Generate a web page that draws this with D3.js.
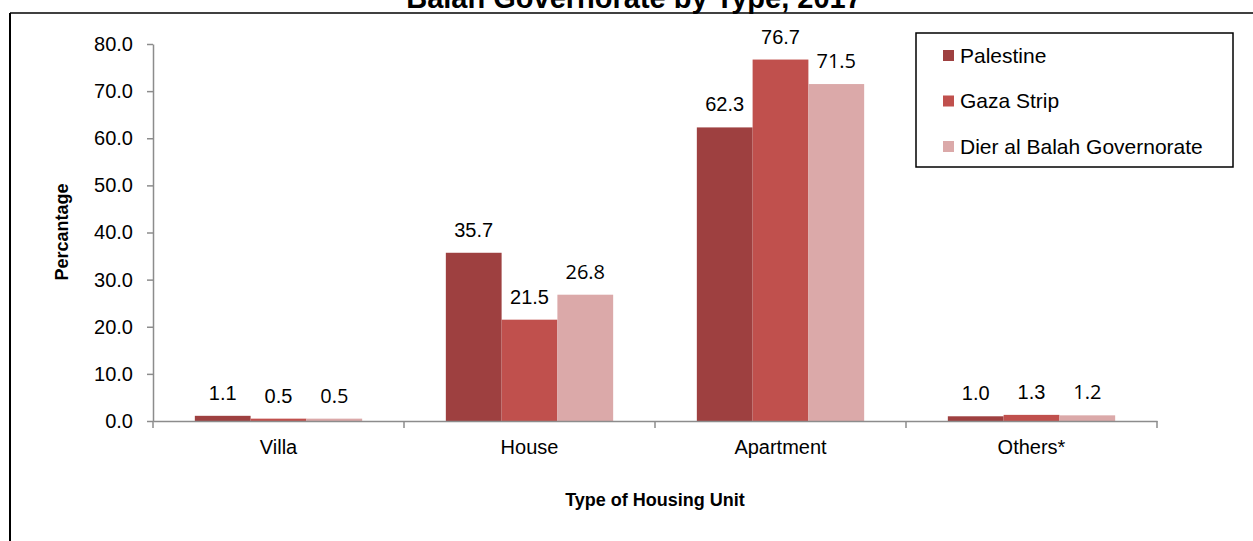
<!DOCTYPE html>
<html>
<head>
<meta charset="utf-8">
<script src="https://cdn.jsdelivr.net/npm/d3@7"></script>
<style>
  body { margin: 0; background: #fff; }
  svg { display: block; font-family: "Liberation Sans", Arial, sans-serif; }
</style>
</head>
<body>
<svg id="chart" width="1253" height="541"></svg>
<script>
// data
const categories = ["Villa", "House", "Apartment", "Others*"];
const seriesNames = ["Palestine", "Gaza Strip", "Dier al Balah Governorate"];
const palestine = [1.1, 35.7, 62.3, 1.0];
const gaza = [0.5, 21.5, 76.7, 1.3];
const dierAlBalah = [0.5, 26.8, 71.5, 1.2];
const yTicks = [0, 10, 20, 30, 40, 50, 60, 70, 80];

const colors = ["#9e4040", "#c0504d", "#dba9a9"];
const series = [palestine, gaza, dierAlBalah];

const svg = d3.select("#chart");

// frame
svg.append("line")
    .attr("x1", 10).attr("x2", 1253)
    .attr("y1", 13).attr("y2", 13)
    .attr("stroke", "#000").attr("stroke-width", 1.5);
svg.append("line")
    .attr("x1", 10).attr("x2", 10)
    .attr("y1", 13).attr("y2", 541)
    .attr("stroke", "#000").attr("stroke-width", 2);

// title, mostly cut by the top edge like the reference
svg.append("text")
    .attr("x", 634).attr("y", 8)
    .attr("text-anchor", "middle")
    .attr("font-size", 29).attr("font-weight", "bold")
    .text("Balah Governorate by Type, 2017");

const margin = {left: 153, right: 96, top: 44, bottom: 120};
const width = 1253 - margin.left - margin.right;
const height = 541 - margin.top - margin.bottom;

const g = svg.append("g").attr("transform", `translate(${margin.left},${margin.top})`);

const x = d3.scaleBand().domain(categories).range([0, width]);
const xs = d3.scaleBand().domain(d3.range(3)).range([0, x.bandwidth()]).paddingOuter(0.75);
const y = d3.scaleLinear().domain([0, 80]).range([height, 0]);

// y axis
const yAxis = g.append("g")
    .call(d3.axisLeft(y).tickValues(yTicks).tickFormat(d3.format(".1f")).tickSize(6).tickSizeOuter(0));
yAxis.select(".domain").attr("stroke", "#8c8c8c").attr("stroke-width", 1.5);
yAxis.selectAll(".tick line").attr("stroke", "#8c8c8c").attr("stroke-width", 1.5);
yAxis.selectAll(".tick text")
    .attr("font-family", "Liberation Sans, Arial, sans-serif")
    .attr("font-size", 20).attr("fill", "#000").attr("x", -20);

// bars + value labels
categories.forEach((c, i) => {
    series.forEach((s, j) => {
        g.append("rect")
            .attr("x", x(c) + xs(j))
            .attr("y", y(s[i]))
            .attr("width", xs.bandwidth())
            .attr("height", y(0) - y(s[i]))
            .attr("fill", colors[j]);
        g.append("text")
            .attr("x", x(c) + xs(j) + xs.bandwidth() / 2)
            .attr("y", y(s[i]) - 16)
            .attr("text-anchor", "middle")
            .style("font-size", (j == 2 ? 20 : 20) + "px")
            .style("font-family", j == 2 ? "'Open Sans', sans-serif" : "'Liberation Sans', Arial, sans-serif")
            .text(d3.format(".1f")(s[i]));
    });
});

// x axis
const xAxis = g.append("g")
    .attr("transform", `translate(0,${height})`)
    .call(d3.axisBottom(x).tickSize(0));
xAxis.select(".domain").attr("stroke", "#8c8c8c").attr("stroke-width", 1.5);
xAxis.selectAll(".tick text")
    .attr("font-family", "Liberation Sans, Arial, sans-serif")
    .attr("font-size", 20).attr("fill", "#000").attr("dy", 0).attr("y", 33);
// tick marks between the categories
g.append("g").selectAll("line")
    .data(d3.range(categories.length + 1))
    .join("line")
    .attr("x1", d => d * x.step())
    .attr("x2", d => d * x.step())
    .attr("y1", height).attr("y2", height + 7)
    .attr("stroke", "#8c8c8c").attr("stroke-width", 1.5);

// axis titles
svg.append("text")
    .attr("transform", "translate(68,232) rotate(-90)")
    .attr("text-anchor", "middle")
    .attr("font-size", 18).attr("font-weight", "bold")
    .text("Percantage");
svg.append("text")
    .attr("x", 655).attr("y", 506)
    .attr("text-anchor", "middle")
    .attr("font-size", 18).attr("font-weight", "bold")
    .text("Type of Housing Unit");

// legend
const lg = svg.append("g").attr("transform", "translate(916,33)");
lg.append("rect")
    .attr("width", 317).attr("height", 134)
    .attr("fill", "#fff").attr("stroke", "#000").attr("stroke-width", 1.5);
seriesNames.forEach((n, j) => {
    lg.append("rect")
        .attr("x", 27).attr("y", 17 + j * 45.5)
        .attr("width", 11).attr("height", 11)
        .attr("fill", colors[j]);
    lg.append("text")
        .attr("x", 44).attr("y", 29.5 + j * 45.5)
        .attr("font-size", 21)
        .text(n);
});
</script>
</body>
</html>
